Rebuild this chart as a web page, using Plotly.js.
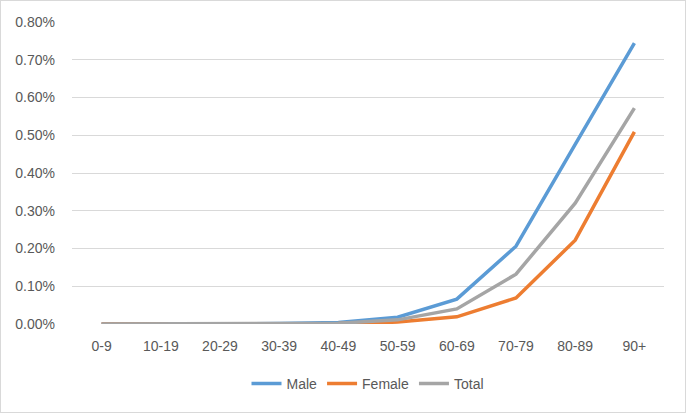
<!DOCTYPE html>
<html>
<head>
<meta charset="utf-8">
<script src="https://cdn.plot.ly/plotly-3.0.1.min.js"></script>
<style>
  html, body { margin: 0; padding: 0; background: #fff; }
  #chart { width: 684px; height: 411px; border: 1px solid #d9d9d9; }
</style>
</head>
<body>
<div id="chart"></div>
<script>
var ageGroups = ['0-9', '10-19', '20-29', '30-39', '40-49', '50-59', '60-69', '70-79', '80-89', '90+'];
var male   = [0, 0, 0, 0.00001, 0.00004, 0.00018, 0.00066, 0.00206, 0.00476, 0.00744];
var female = [0, 0, 0, 0, 0.00001, 0.00005, 0.00019, 0.00069, 0.00222, 0.00509];
var total  = [0, 0, 0, 0.00001, 0.00002, 0.00011, 0.00040, 0.00132, 0.00320, 0.00572];

function line(name, y, color) {
  return { x: ageGroups, y: y, name: name, type: 'scatter', mode: 'lines',
           line: { color: color, width: 3.5 } };
}

var data = [
  line('Male', male, '#5B9BD5'),
  line('Female', female, '#ED7D31'),
  line('Total', total, '#A5A5A5')
];

var layout = {
  width: 684, height: 411,
  margin: { l: 71, r: 21, t: 21, b: 88 },
  paper_bgcolor: '#fff', plot_bgcolor: '#fff',
  font: { family: 'Liberation Sans, Arial, sans-serif', size: 14, color: '#595959' },
  xaxis: { type: 'category', showgrid: false, zeroline: false, showline: false,
           ticks: '', ticklen: 0, range: [-0.5, 9.5], ticklabelstandoff: 12 },
  yaxis: { range: [0, 0.008], dtick: 0.001, tickformat: '.2%', gridcolor: '#d9d9d9',
           zeroline: false, showline: false, ticks: '', ticklabelstandoff: 16 },
  legend: { orientation: 'h', x: 0.5, xanchor: 'center', y: -0.145, yanchor: 'top',
            font: { size: 14, color: '#595959' } },
  showlegend: true
};

Plotly.newPlot('chart', data, layout, { displayModeBar: false, staticPlot: true });
</script>
</body>
</html>
